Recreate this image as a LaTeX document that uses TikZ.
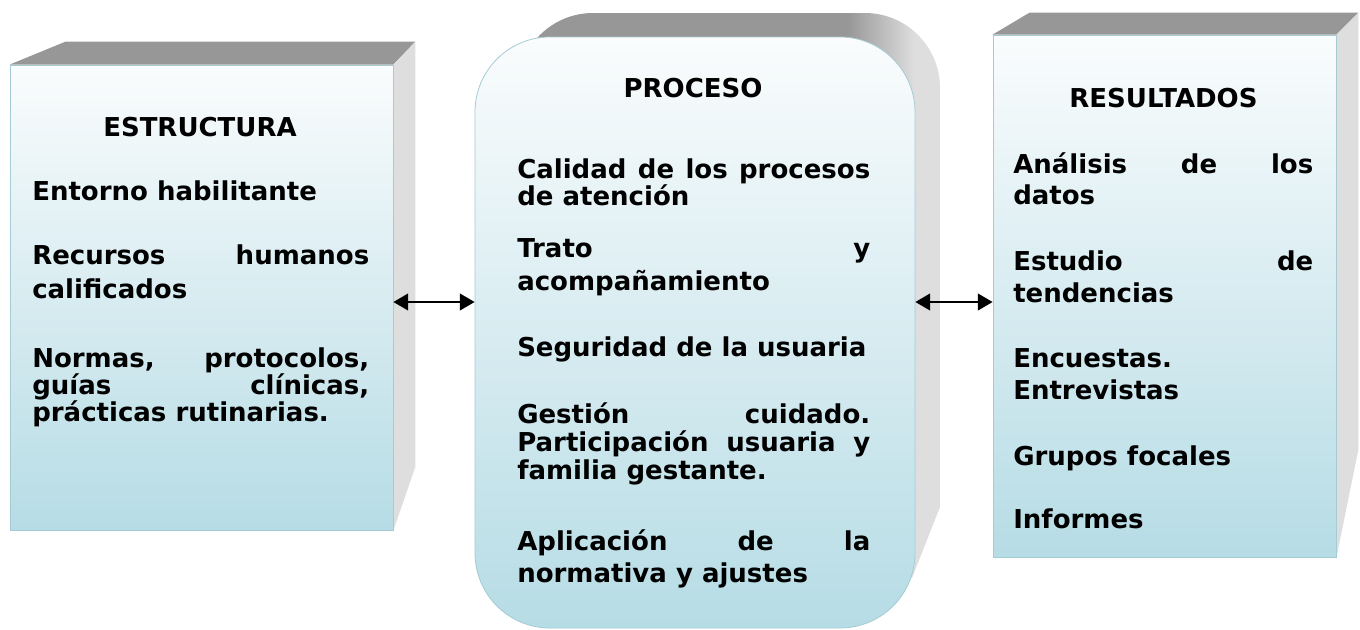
\documentclass[tikz,border=0pt]{standalone}
\usepackage{fontspec}
\setsansfont{DejaVu Sans}
\usepackage{tikz}
\usetikzlibrary{arrows.meta, calc, backgrounds}
\definecolor{faceTop}{RGB}{250,252,253}
\definecolor{faceBot}{RGB}{182,220,229}
\definecolor{faceEdge}{RGB}{165,203,213}
\definecolor{topGray}{RGB}{151,151,151}
\definecolor{sideGray}{RGB}{222,222,222}
\pgfdeclarehorizontalshading{procTop}{100bp}{color(0bp)=(topGray); color(64bp)=(topGray);
  color(72bp)=(sideGray); color(100bp)=(sideGray)}
\tolerance=10000
\hyphenpenalty=10000

\begin{document}
\begin{tikzpicture}[x=0.75pt, y=-0.75pt, font=\sffamily\bfseries,
    face/.style={draw=faceEdge, line width=0.6pt, top color=faceTop,
                 bottom color=faceBot, inner sep=0pt},
    head/.style={anchor=base, font=\sffamily\bfseries\fontsize{19.5}{23.25}\selectfont},
    para/.style={anchor=base west, inner sep=0pt, align=justify,
                 font=\sffamily\bfseries\fontsize{19.5}{#1}\selectfont},
    para/.default=23.25pt,
    biarr/.style={{Triangle[length=11pt,width=12.5pt]}-{Triangle[length=11pt,width=12.5pt]},
                  line width=1.3pt}]
\useasboundingbox (0,0) rectangle (1360,629);

% FRONT FACES
\node[face, minimum width=287.25pt, minimum height=348.75pt] (estructura) at (201.5,297.5) {};
\node[face, rounded corners=56.25pt, minimum width=330pt, minimum height=443.25pt]
   (proceso) at (695,332.5) {};
\node[face, minimum width=257.25pt, minimum height=391.5pt] (resultados) at (1164.5,296) {};

% DEPTH (top and side faces)
\begin{scope}[on background layer]
\fill[topGray] (estructura.north west) -- ++(56,-23)
   -- ([shift={(22,-23)}]estructura.north east) -- (estructura.north east) -- cycle;
\fill[sideGray] (estructura.north east) -- ++(22,-23) -- ++(0,425)
   -- (estructura.south east) -- cycle;
\shade[shading=procTop] (518,300) -- (518,88) arc[start angle=180, end angle=90, radius=56.25pt]
   -- (865,13) arc[start angle=90, end angle=0, radius=56.25pt]
   -- (940,507) -- (912,578) -- (600,578) -- cycle;
\fill[topGray] (resultados.north west) -- ++(37,-22)
   -- ([shift={(22,-22)}]resultados.north east) -- (resultados.north east) -- cycle;
\fill[sideGray] (resultados.north east) -- ++(22,-22) -- ++(0,437)
   -- (resultados.south east) -- cycle;
\end{scope}

% ESTRUCTURA
\node[head] (hEst) at (200,136) {ESTRUCTURA};
\node[para, text width=252.75pt] (est1) at (32,200) {Entorno habilitante};
\node[para=25.5pt, text width=252.75pt] (est2) at (32,264)
   {Recursos humanos\linebreak calificados};
\node[para=20.6pt, text width=252.75pt] (est3) at (32,367)
   {Normas, protocolos,\linebreak guías clínicas,\linebreak prácticas rutinarias.};

% PROCESO
\node[head] (hPro) at (693,97) {PROCESO};
\node[para=20.5pt, text width=264.75pt] (pro1) at (517,178)
   {Calidad de los procesos\linebreak de atención};
\node[para=25.3pt, text width=264.75pt] (pro2) at (517,257)
   {Trato y\linebreak acompañamiento};
\node[para, text width=264.75pt] (pro3) at (517,356) {Seguridad de la usuaria};
\node[para=21pt, text width=264.75pt] (pro4) at (517,423)
   {Gestión cuidado.\linebreak Participación usuaria y\linebreak familia gestante.};
\node[para=24pt, text width=264.75pt] (pro5) at (517,550)
   {Aplicación de la\linebreak normativa y ajustes};

% RESULTADOS
\node[head] (hRes) at (1163.5,107) {RESULTADOS};
\node[para, text width=225pt] (res1) at (1013,173) {Análisis de los\linebreak datos};
\node[para=24pt, text width=225pt] (res2) at (1013,270) {Estudio de\linebreak tendencias};
\node[para=24pt, text width=225pt] (res3) at (1013,367) {Encuestas. Entrevistas};
\node[para, text width=225pt] (res4) at (1013,465) {Grupos focales};
\node[para, text width=225pt] (res5) at (1013,528) {Informes};

% ARROWS
\draw[biarr] ($(estructura.east)+(0,4.5)$) -- ($(estructura.east -| proceso.west)+(0,4.5)$);
\draw[biarr] ($(proceso.east |- resultados.west)+(0,6)$) -- ($(resultados.west)+(0,6)$);

\end{tikzpicture}
\end{document}
